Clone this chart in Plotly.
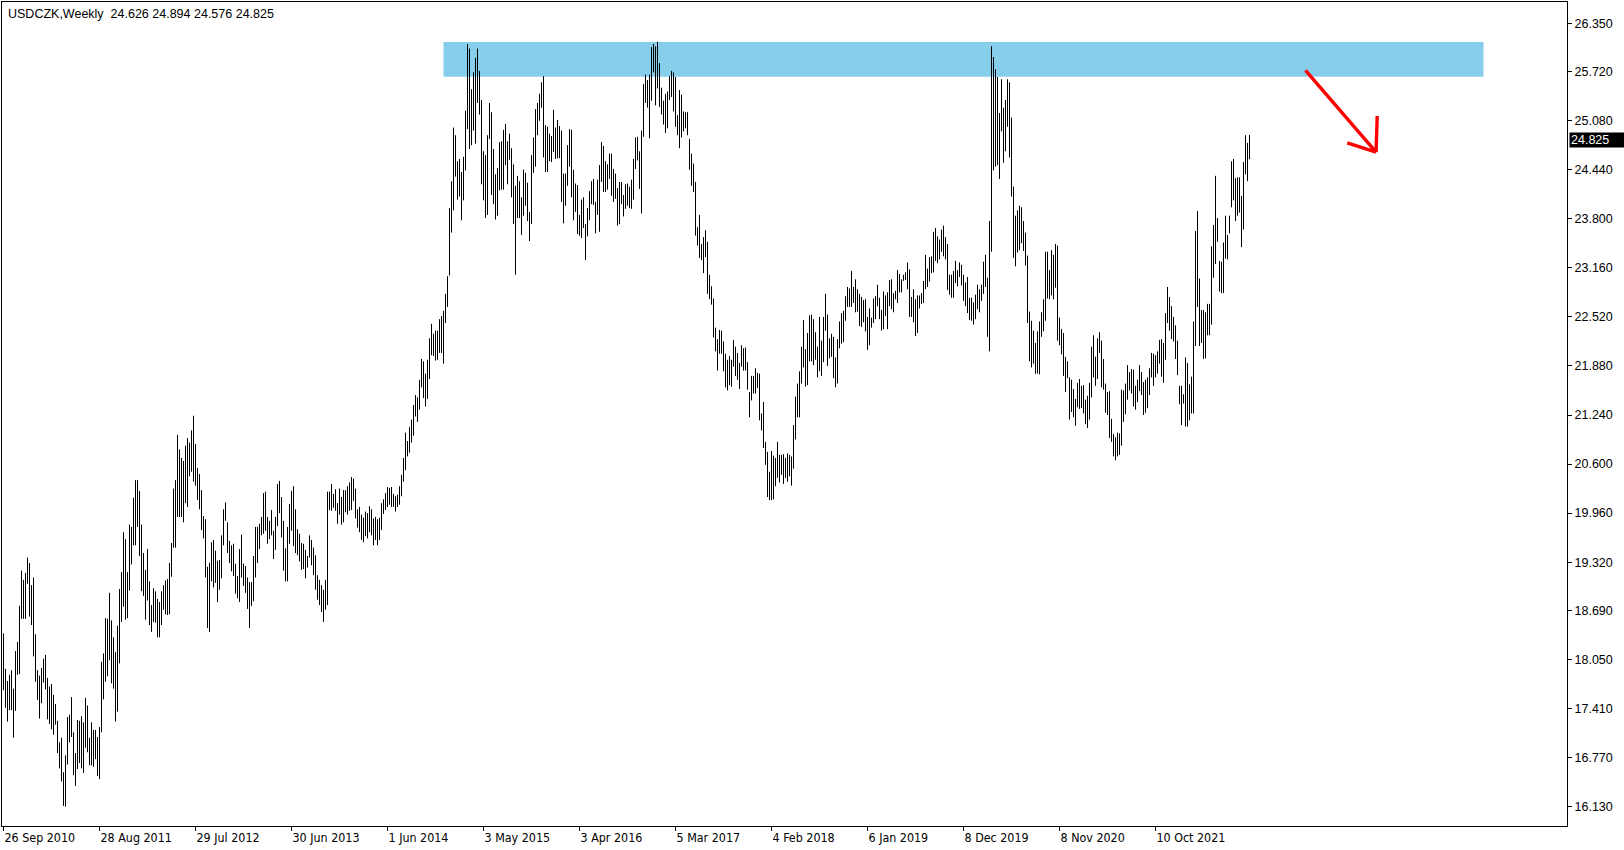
import pandas as pd
import plotly.graph_objects as go

symbol_title = "USDCZK,Weekly"
first_week = "2010-09-26"

# weekly high / low of every bar
highs = [
    18.39, 17.93, 17.77, 17.85, 17.91, 17.67, 18.16, 18.28, 18.75, 19.21,
    19.09, 19.18, 19.38, 19.31, 19.02, 19.12, 18.38, 17.91, 17.84, 17.94,
    18.06, 18.11, 17.81, 17.70, 17.73, 17.59, 17.47, 17.25, 16.97, 17.03,
    16.58, 16.80, 17.30, 17.33, 17.56, 17.10, 16.83, 17.26, 17.25, 17.31,
    17.23, 17.55, 17.45, 17.03, 17.23, 17.13, 17.13, 17.04, 17.17, 18.02,
    18.13, 18.59, 18.58, 18.92, 18.56, 18.34, 18.15, 18.49, 18.97, 19.19,
    19.71, 19.62, 19.19, 19.81, 19.78, 20.16, 20.39, 20.39, 20.25, 19.81,
    19.44, 19.22, 19.49, 19.07, 18.76, 18.98, 18.94, 18.84, 18.80, 18.94,
    19.02, 19.08, 19.10, 19.31, 19.57, 20.28, 20.39, 20.98, 20.79, 20.68,
    20.64, 20.84, 20.94, 20.88, 21.04, 21.23, 20.86, 20.55, 20.47, 20.26,
    19.92, 19.88, 19.26, 19.31, 19.58, 19.61, 19.47, 19.34, 19.35, 19.67,
    20.01, 20.10, 19.84, 19.60, 19.54, 19.56, 19.30, 19.14, 19.49, 19.68,
    19.30, 19.27, 19.12, 19.06, 19.06, 19.40, 19.78, 19.78, 19.82, 19.91,
    20.22, 20.24, 19.91, 19.86, 20.00, 19.73, 19.91, 20.34, 20.38, 20.17,
    19.86, 19.50, 19.78, 20.08, 20.25, 20.31, 20.01, 19.75, 19.69, 19.57,
    19.56, 19.48, 19.40, 19.67, 19.61, 19.51, 19.41, 19.15, 19.09, 19.02,
    18.96, 19.09, 20.24, 20.24, 20.34, 20.21, 20.27, 20.09, 20.28, 20.17,
    20.26, 20.26, 20.31, 20.36, 20.43, 20.41, 20.28, 20.01, 20.04, 19.94,
    19.90, 19.98, 19.96, 20.05, 20.01, 19.89, 19.91, 19.88, 19.90, 20.09,
    20.14, 20.22, 20.30, 20.29, 20.30, 20.21, 20.18, 20.20, 20.31, 20.46,
    20.68, 21.01, 20.90, 21.08, 21.18, 21.37, 21.50, 21.47, 21.70, 21.97,
    21.94, 21.78, 21.96, 22.24, 22.43, 22.30, 22.34, 22.34, 22.49, 22.53,
    22.60, 22.82, 23.05, 23.94, 24.29, 24.99, 24.89, 24.55, 24.58, 24.41,
    24.61, 25.21, 26.08, 26.02, 25.49, 25.71, 25.90, 26.02, 25.73, 25.35,
    24.68, 24.63, 24.89, 25.31, 25.19, 24.71, 24.38, 24.46, 24.80, 24.81,
    24.96, 25.04, 24.81, 24.91, 24.72, 24.51, 24.23, 24.36, 24.29, 24.08,
    24.44, 24.40, 24.27, 23.89, 24.63, 24.86, 25.23, 25.31, 25.43, 25.58,
    25.66, 25.02, 25.00, 24.91, 24.88, 25.22, 24.99, 25.09, 25.01, 24.95,
    24.39, 24.39, 24.76, 24.97, 24.96, 24.44, 24.26, 24.24, 23.85, 24.05,
    24.08, 23.73, 23.94, 24.16, 24.29, 24.32, 24.02, 24.31, 24.50, 24.80,
    24.75, 24.55, 24.51, 24.65, 24.65, 24.45, 24.39, 24.20, 24.28, 24.28,
    24.11, 24.25, 24.26, 24.22, 24.31, 24.58, 24.86, 24.87, 24.68, 24.95,
    25.56, 25.68, 25.61, 25.68, 26.04, 26.08, 26.05, 26.11, 25.83, 25.51,
    25.34, 25.43, 25.46, 25.66, 25.73, 25.71, 25.65, 25.15, 25.48, 25.42,
    25.20, 25.19, 25.19, 24.84, 24.65, 24.52, 24.28, 23.69, 23.85, 23.47,
    23.56, 23.65, 23.50, 23.07, 22.92, 22.76, 22.38, 22.23, 22.35, 22.34,
    22.20, 22.04, 21.96, 22.01, 21.96, 22.22, 22.13, 22.05, 21.92, 22.15,
    22.11, 22.12, 21.93, 21.54, 21.75, 21.75, 21.85, 21.79, 21.78, 21.26,
    21.41, 20.89, 20.76, 20.50, 20.77, 20.71, 20.68, 20.89, 20.72, 20.72,
    20.73, 20.68, 20.74, 20.72, 20.70, 21.11, 21.48, 21.65, 21.81, 22.13,
    22.48, 22.10, 22.31, 22.54, 22.55, 22.49, 22.32, 22.13, 22.52, 22.21,
    22.52, 22.82, 22.55, 22.24, 22.30, 22.26, 21.99, 22.23, 22.46, 22.57,
    22.60, 22.79, 22.91, 22.89, 23.12, 22.91, 23.01, 22.88, 22.82, 22.78,
    22.74, 22.75, 22.52, 22.63, 22.51, 22.76, 22.79, 22.94, 22.77, 22.61,
    22.85, 22.80, 22.84, 23.00, 23.01, 22.83, 22.86, 23.13, 23.08, 23.01,
    23.07, 23.10, 23.23, 23.14, 22.78, 22.88, 22.75, 22.80, 22.80, 22.83,
    22.99, 23.33, 23.15, 23.30, 23.31, 23.63, 23.68, 23.57, 23.53, 23.66,
    23.71, 23.56, 23.47, 23.07, 23.07, 23.12, 23.25, 23.13, 23.23, 23.20,
    23.07, 22.97, 23.04, 22.77, 22.77, 22.71, 22.81, 22.94, 22.88, 22.94,
    23.24, 23.33, 23.03, 23.77, 26.05, 25.91, 25.75, 25.65, 25.18, 25.62,
    25.25, 25.35, 25.62, 25.58, 25.12, 24.22, 23.84, 23.91, 23.97, 23.95,
    23.77, 23.62, 23.32, 22.59, 22.47, 22.34, 22.18, 22.33, 22.46, 22.58,
    22.75, 23.37, 23.37, 23.13, 23.39, 23.33, 23.47, 23.45, 22.51, 22.36,
    22.31, 22.00, 21.94, 21.73, 21.70, 21.58, 21.45, 21.66, 21.71, 21.62,
    21.63, 21.44, 21.49, 21.66, 22.13, 22.28, 22.00, 22.24, 22.32, 22.21,
    21.97, 21.65, 21.54, 21.55, 21.19, 20.99, 20.95, 21.01, 21.00, 21.57,
    21.56, 21.65, 21.89, 21.80, 21.84, 21.83, 21.62, 21.70, 21.89, 21.80,
    21.67, 21.70, 21.73, 21.85, 22.05, 22.04, 22.02, 22.07, 22.22, 22.23,
    22.18, 22.57, 22.91, 22.78, 22.66, 22.52, 22.41, 22.21, 21.62, 21.62,
    21.51, 21.99, 21.92, 21.64, 21.74, 22.46, 23.64, 23.90, 23.02, 22.61,
    22.61, 22.58, 22.69, 22.69, 23.44, 23.72, 24.36, 23.81, 23.25, 23.24,
    23.49, 23.84, 23.59, 23.84, 24.55, 24.58, 24.33, 24.34, 24.34, 24.10,
    24.54, 24.89, 24.79, 24.894,
]

lows = [
    17.65, 17.42, 17.24, 17.39, 17.39, 17.03, 17.38, 17.85, 17.86, 18.58,
    18.58, 18.58, 19.04, 18.61, 18.50, 18.09, 17.76, 17.52, 17.28, 17.48,
    17.75, 17.66, 17.27, 17.21, 17.14, 17.07, 17.20, 16.83, 16.63, 16.46,
    16.14, 16.13, 16.68, 16.97, 17.04, 16.54, 16.40, 16.62, 16.70, 16.63,
    16.57, 16.90, 16.84, 16.67, 16.67, 16.65, 16.75, 16.53, 16.49, 17.10,
    17.53, 17.76, 17.83, 18.04, 17.74, 17.67, 17.24, 17.37, 18.00, 18.54,
    18.74, 18.57, 18.59, 18.95, 19.29, 19.54, 19.54, 19.78, 19.40, 18.94,
    18.88, 18.57, 18.82, 18.50, 18.41, 18.54, 18.53, 18.34, 18.34, 18.50,
    18.70, 18.64, 18.63, 18.64, 19.13, 19.51, 19.51, 19.91, 19.91, 19.91,
    19.84, 20.09, 20.04, 20.44, 20.50, 20.37, 20.32, 20.13, 20.01, 19.74,
    19.63, 19.12, 18.46, 18.41, 19.07, 18.99, 19.05, 18.80, 18.96, 19.11,
    19.54, 19.86, 19.44, 19.31, 19.20, 19.14, 18.91, 18.85, 18.80, 19.12,
    19.01, 18.92, 18.71, 18.46, 18.75, 18.81, 19.12, 19.31, 19.49, 19.67,
    19.69, 19.73, 19.56, 19.62, 19.67, 19.36, 19.48, 19.79, 19.96, 19.64,
    19.21, 19.07, 19.07, 19.56, 19.73, 19.53, 19.44, 19.41, 19.33, 19.22,
    19.23, 19.11, 19.25, 19.38, 19.28, 19.15, 18.96, 18.83, 18.76, 18.67,
    18.54, 18.70, 18.76, 20.00, 19.99, 20.03, 19.99, 19.82, 19.94, 19.81,
    19.84, 19.97, 19.94, 19.99, 20.00, 20.12, 19.89, 19.77, 19.71, 19.61,
    19.58, 19.66, 19.63, 19.71, 19.67, 19.54, 19.61, 19.54, 19.61, 19.74,
    19.95, 20.00, 20.04, 20.07, 20.04, 20.04, 19.98, 20.04, 20.07, 20.18,
    20.37, 20.52, 20.70, 20.75, 20.88, 20.97, 21.22, 21.15, 21.31, 21.60,
    21.46, 21.35, 21.45, 21.71, 22.02, 22.01, 21.95, 21.96, 22.05, 22.05,
    21.91, 22.44, 22.65, 23.06, 23.62, 23.91, 24.35, 24.05, 24.09, 23.78,
    24.04, 24.43, 24.97, 24.71, 24.76, 24.95, 24.78, 25.31, 25.16, 24.25,
    24.04, 23.81, 23.85, 24.84, 24.11, 23.99, 23.79, 23.84, 24.17, 24.18,
    24.18, 24.50, 24.25, 24.57, 24.08, 23.73, 23.07, 23.81, 23.81, 23.59,
    23.84, 23.97, 23.77, 23.51, 23.73, 24.40, 24.48, 24.89, 25.08, 25.25,
    24.60, 24.41, 24.41, 24.55, 24.54, 24.67, 24.58, 24.59, 24.59, 24.02,
    23.74, 23.97, 24.23, 24.48, 24.08, 23.78, 23.89, 23.60, 23.58, 23.55,
    23.68, 23.26, 23.57, 23.78, 23.99, 23.98, 23.61, 23.85, 23.63, 24.28,
    24.15, 24.15, 24.18, 24.32, 24.10, 24.02, 24.06, 23.71, 23.73, 23.99,
    23.83, 23.93, 23.97, 23.94, 23.93, 24.05, 24.45, 24.56, 24.19, 23.87,
    24.87, 25.31, 25.25, 24.85, 25.34, 25.71, 25.28, 25.50, 25.26, 25.16,
    25.03, 24.92, 24.98, 25.35, 25.39, 25.20, 25.00, 24.89, 24.72, 24.86,
    24.94, 24.98, 24.89, 24.44, 24.23, 24.15, 23.58, 23.45, 23.29, 23.26,
    23.09, 23.30, 22.82, 22.75, 22.68, 22.25, 22.07, 21.82, 22.04, 22.04,
    21.81, 21.60, 21.56, 21.63, 21.61, 21.87, 21.75, 21.70, 21.58, 21.87,
    21.82, 21.82, 21.57, 21.21, 21.43, 21.52, 21.52, 21.59, 21.17, 21.04,
    20.81, 20.59, 20.17, 20.13, 20.13, 20.14, 20.31, 20.42, 20.36, 20.46,
    20.34, 20.42, 20.37, 20.44, 20.32, 20.54, 20.92, 21.21, 21.21, 21.65,
    21.86, 21.61, 21.63, 21.94, 21.94, 21.89, 21.96, 21.73, 21.81, 21.75,
    21.93, 22.34, 21.88, 21.98, 22.00, 21.72, 21.60, 21.65, 22.11, 22.17,
    22.19, 22.47, 22.65, 22.65, 22.65, 22.70, 22.58, 22.59, 22.40, 22.39,
    22.45, 22.33, 22.09, 22.15, 22.38, 22.44, 22.49, 22.66, 22.49, 22.34,
    22.36, 22.53, 22.36, 22.66, 22.62, 22.58, 22.75, 22.70, 22.84, 22.84,
    22.99, 23.00, 22.88, 22.52, 22.52, 22.45, 22.27, 22.31, 22.63, 22.69,
    22.70, 22.88, 22.91, 22.98, 23.09, 23.10, 23.25, 23.22, 23.27, 23.37,
    23.31, 23.27, 22.87, 22.81, 22.77, 22.77, 22.96, 22.92, 23.04, 22.93,
    22.73, 22.66, 22.57, 22.48, 22.47, 22.42, 22.49, 22.62, 22.58, 22.73,
    22.82, 22.91, 22.26, 22.07, 23.37, 24.43, 24.48, 24.50, 24.32, 24.94,
    24.53, 24.68, 25.00, 24.60, 24.09, 23.29, 23.18, 23.36, 23.39, 23.48,
    23.38, 23.19, 22.44, 21.94, 21.86, 21.91, 21.78, 21.78, 21.77, 22.26,
    22.33, 22.47, 22.76, 22.75, 22.80, 22.75, 22.90, 22.21, 22.15, 22.03,
    21.75, 21.54, 21.72, 21.18, 21.28, 21.21, 21.10, 21.34, 21.32, 21.33,
    21.26, 21.12, 21.07, 21.18, 21.47, 21.73, 21.62, 21.71, 22.05, 21.60,
    21.57, 21.27, 21.24, 20.94, 20.89, 20.70, 20.65, 20.70, 20.72, 20.84,
    21.15, 21.25, 21.44, 21.56, 21.52, 21.35, 21.31, 21.41, 21.55, 21.50,
    21.24, 21.27, 21.33, 21.50, 21.73, 21.62, 21.73, 21.78, 21.91, 21.74,
    21.66, 21.96, 22.44, 22.34, 22.23, 22.20, 21.97, 21.76, 21.38, 21.11,
    21.39, 21.09, 21.09, 21.17, 21.26, 21.26, 22.14, 22.65, 22.14, 22.18,
    21.97, 21.98, 22.28, 22.28, 22.42, 23.03, 23.21, 23.50, 22.85, 22.83,
    22.83, 23.28, 23.27, 23.61, 23.95, 24.04, 23.77, 23.84, 23.88, 23.43,
    23.66, 24.38, 24.29, 24.576,
]

last_open, last_high, last_low, last_close = 24.626, 24.894, 24.576, 24.825

price_ticks = [26.35, 25.72, 25.08, 24.44, 23.80, 23.16, 22.52, 21.88, 21.24,
               20.60, 19.96, 19.32, 18.69, 18.05, 17.41, 16.77, 16.13]
date_ticks = ["2010-09-26", "2011-08-28", "2012-07-29", "2013-06-30", "2014-06-01",
              "2015-05-03", "2016-04-03", "2017-03-05", "2018-02-04", "2019-01-06",
              "2019-12-08", "2020-11-08", "2021-10-10"]
date_labels = ["26 Sep 2010", "28 Aug 2011", "29 Jul 2012", "30 Jun 2013", "1 Jun 2014",
               "3 May 2015", "3 Apr 2016", "5 Mar 2017", "4 Feb 2018", "6 Jan 2019",
               "8 Dec 2019", "8 Nov 2020", "10 Oct 2021"]

# resistance zone (drawn rectangle)
zone_start, zone_end = "2014-12-14", "2024-12-01"
zone_low, zone_high = 25.654, 26.107

# red arrow drawing
arrow_start = ("2023-03-19", 25.736)
arrow_tip = ("2023-11-21", 24.67)
arrow_head_up = ("2023-11-25", 25.14)
arrow_head_left = ("2023-08-12", 24.79)

# ---------------------------------------------------------------------------
dates = pd.date_range(first_week, periods=len(highs), freq="7D")
xs, ys = [], []
for d, h, l in zip(dates, highs, lows):
    xs += [d, d, None]
    ys += [l, h, None]

fig = go.Figure()
fig.add_trace(go.Scatter(x=xs, y=ys, mode="lines", line=dict(color="#000000", width=1),
                         hoverinfo="skip", showlegend=False))

t0 = pd.Timestamp(first_week)
x_range = [t0 - pd.Timedelta(hours=126), t0 + pd.Timedelta(hours=int(5472.25 * 24))]

label_font = dict(family="Liberation Sans, Arial, sans-serif", size=12.5, color="#000000")

fig.update_layout(
    width=1624, height=850,
    margin=dict(l=2, r=57, t=2, b=24),
    paper_bgcolor="#ffffff", plot_bgcolor="#ffffff",
    showlegend=False,
    xaxis=dict(
        type="date", range=x_range, showgrid=False, zeroline=False,
        showline=True, linecolor="#000000", linewidth=1, mirror=True,
        ticks="outside", ticklen=4, tickcolor="#000000", tickwidth=1,
        tickmode="array", tickvals=date_ticks, ticktext=date_labels,
        ticklabelposition="outside right",
        tickfont=dict(family="Liberation Sans Narrow, DejaVu Sans Condensed, Arial Narrow, sans-serif",
                      size=12.4, color="#000000"),
    ),
    yaxis=dict(
        range=[15.878, 26.628], side="right", showgrid=False, zeroline=False,
        showline=True, linecolor="#000000", linewidth=1, mirror=True,
        ticks="outside", ticklen=4, tickcolor="#000000", tickwidth=1,
        tickmode="array", tickvals=price_ticks,
        ticktext=[f"{v:.3f}" for v in price_ticks],
        tickfont=label_font,
    ),
)

fig.add_shape(type="rect", xref="x", yref="y", x0=zone_start, x1=zone_end,
              y0=zone_low, y1=zone_high, fillcolor="#87CEEB", line=dict(width=0),
              layer="below")

red = dict(color="#FF0000", width=3.4)
for p0, p1 in [(arrow_start, arrow_tip), (arrow_head_up, arrow_tip), (arrow_head_left, arrow_tip)]:
    fig.add_shape(type="line", xref="x", yref="y", x0=p0[0], y0=p0[1], x1=p1[0], y1=p1[1],
                  line=red)

fig.add_annotation(
    xref="paper", yref="paper", x=0, y=1, xanchor="left", yanchor="top",
    xshift=4, yshift=-3, showarrow=False, align="left",
    text=f"{symbol_title}\u00a0\u00a0{last_open:.3f} {last_high:.3f} {last_low:.3f} {last_close:.3f}",
    font=label_font,
)

fig.add_annotation(
    xref="paper", yref="y", x=1, y=last_close, xanchor="left", yanchor="middle",
    xshift=2, showarrow=False, align="left", width=52, height=12, borderpad=1,
    bgcolor="#000000", text=f"{last_close:.3f}",
    font=dict(family="Liberation Sans, Arial, sans-serif", size=12.5, color="#ffffff"),
)

fig.write_html("out.html", config={"displayModeBar": False},
               post_script="document.body.style.margin='0';document.body.style.overflow='hidden';")
